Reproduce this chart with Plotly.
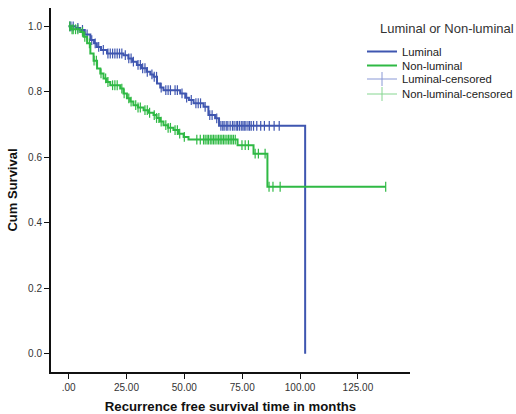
import plotly.graph_objects as go

# ---- data ----
lum_event_t = [0, 3, 5, 7, 9.4, 11, 12.2, 14, 16.6, 23.7, 25.8, 27.5, 29.5, 31.5, 33.8, 35.3, 36.7,
               38.2, 39.6, 41, 48.2, 50.4, 52, 54, 58.3, 60.4, 63.3, 65, 102.2]
lum_event_s = [1.0, 0.995, 0.989, 0.975, 0.958, 0.948, 0.937, 0.928, 0.917, 0.912, 0.902, 0.892, 0.882,
               0.872, 0.861, 0.853, 0.846, 0.825, 0.813, 0.805, 0.795, 0.782, 0.775, 0.765, 0.754,
               0.729, 0.719, 0.696, 0.0]
lum_end = 102.2
lum_cens = [0.5, 1, 2, 4, 6, 8, 10, 11.5, 13, 15, 17, 18, 19, 20, 21, 22, 23, 24.5, 26, 27, 28, 30, 31,
            32, 33, 34, 36, 37, 38, 40, 42, 43, 44, 46, 47, 49, 51, 53, 55, 56, 57, 59, 61, 62, 64,
            65.8, 66.6, 67.2, 68.1, 68.8, 69.8, 70.8, 71.5, 72.4, 73, 73.8, 74.6, 75.3, 75.9, 76.6,
            77.5, 78.2, 78.9, 79.9, 81.3, 83, 84.6, 86.7, 88.8, 91]

non_event_t = [0, 1, 5, 6.5, 8, 9.4, 10.8, 12.3, 13.7, 15.1, 16.5, 18, 22.3, 23.7, 25.2, 26.6, 28, 30,
               32.4, 34.5, 36.7, 38, 39.5, 41, 43, 45.3, 47.5, 49.7, 51.8, 73, 79.9, 85.9]
non_event_s = [1.0, 0.991, 0.983, 0.968, 0.948, 0.917, 0.895, 0.871, 0.856, 0.841, 0.83, 0.82, 0.81,
               0.795, 0.78, 0.77, 0.759, 0.752, 0.744, 0.736, 0.729, 0.72, 0.709, 0.698, 0.69, 0.683,
               0.672, 0.662, 0.654, 0.637, 0.611, 0.51]
non_end = 137
non_cens = [0.5, 1.5, 2, 3, 4, 6, 7, 9, 11, 12, 14, 16, 17, 19, 20, 21, 23, 24, 26, 27, 29, 30, 31, 33,
            34, 35, 37, 38, 39, 40, 42, 43, 44, 46, 47, 48, 50, 55.4, 56.9, 58.3, 59, 59.8, 60.4, 61.2,
            61.9, 62.6, 63.3, 64.1, 64.8, 65.5, 66.2, 66.9, 67.6, 68.4, 69.1, 69.8, 70.5, 71.2, 72,
            74.9, 76.3, 77.7, 80.6, 82, 84.9, 86.6, 88.3, 91.4, 137]

x_ticks = [0, 25, 50, 75, 100, 125]
x_tick_text = [".00", "25.00", "50.00", "75.00", "100.00", "125.00"]
y_ticks = [0, 0.2, 0.4, 0.6, 0.8, 1.0]
y_tick_text = ["0.0", "0.2", "0.4", "0.6", "0.8", "1.0"]

legend_title = "Luminal or Non-luminal"
legend_names = ["Luminal", "Non-luminal", "Luminal-censored", "Non-luminal-censored"]

BLUE = "#3F56B0"
GREEN = "#2FB944"
BLUE_L = "#8A99D6"
GREEN_L = "#86D691"


def step_value(times, surv, t):
    v = surv[0]
    for ti, si in zip(times, surv):
        if ti <= t:
            v = si
        else:
            break
    return v


def curve(times, surv, end):
    xs = list(times)
    ys = list(surv)
    if end > xs[-1]:
        xs.append(end)
        ys.append(ys[-1])
    return xs, ys


fig = go.Figure()

for t, s, end, cens, col in [
    (lum_event_t, lum_event_s, lum_end, lum_cens, BLUE),
    (non_event_t, non_event_s, non_end, non_cens, GREEN),
]:
    xs, ys = curve(t, s, end)
    fig.add_trace(go.Scatter(x=xs, y=ys, mode="lines", line=dict(color=col, width=2, shape="hv"),
                             showlegend=False, hoverinfo="skip"))
    cy = [step_value(t, s, c) for c in cens]
    fig.add_trace(go.Scatter(x=cens, y=cy, mode="markers", showlegend=False,
                             marker=dict(symbol="line-ns", size=7, line=dict(color=col, width=1.2))))

# legend entries (one legend per row so the row spacing matches)
leg_styles = [
    dict(mode="lines", line=dict(color=BLUE, width=2)),
    dict(mode="lines", line=dict(color=GREEN, width=2)),
    dict(mode="lines+markers", line=dict(color=BLUE_L, width=1),
         marker=dict(symbol="line-ns", size=10, line=dict(color=BLUE_L, width=1))),
    dict(mode="lines+markers", line=dict(color=GREEN_L, width=1),
         marker=dict(symbol="line-ns", size=10, line=dict(color=GREEN_L, width=1))),
]
leg_ids = ["legend", "legend2", "legend3", "legend4"]
row_y_px = [51.5, 65.5, 79, 94]
for name, st, lid in zip(legend_names, leg_styles, leg_ids):
    fig.add_trace(go.Scatter(x=[None], y=[None], name=name, legend=lid, **st))

font_family = "Liberation Sans, Arial, sans-serif"
W, H = 516, 414

layout_legends = {}
for lid, ypx in zip(leg_ids, row_y_px):
    layout_legends[lid] = dict(
        font=dict(size=11.3, color="#222"),
        xref="container", yref="container",
        x=362 / W, y=1 - ypx / H, xanchor="left", yanchor="middle",
        bgcolor="rgba(0,0,0,0)", itemwidth=30,
    )

fig.update_layout(
    width=W, height=H,
    margin=dict(l=51, r=106, t=8, b=42, autoexpand=False),
    paper_bgcolor="white", plot_bgcolor="white",
    font=dict(family=font_family, color="#222"),
    **layout_legends,
    annotations=[dict(text=legend_title, xref="paper", yref="paper",
                      x=(378 - 51) / 359, y=(372 - 28) / 364, xanchor="left", yanchor="middle",
                      showarrow=False, font=dict(size=13, color="#333"))],
    xaxis=dict(
        range=[-7.6, 147.5], tickvals=x_ticks, ticktext=x_tick_text,
        showgrid=False, zeroline=False, showline=True, linecolor="#111", linewidth=2,
        ticks="outside", ticklen=5, tickcolor="#111", tickwidth=1,
        tickfont=dict(size=10, color="#333"),
        title=dict(text="<b>Recurrence free survival time in months</b>", font=dict(size=13.2, color="#111"),
                   standoff=10),
    ),
    yaxis=dict(
        range=[-0.056, 1.056], tickvals=y_ticks, ticktext=y_tick_text,
        showgrid=False, zeroline=False, showline=True, linecolor="#111", linewidth=2,
        ticks="outside", ticklen=5, tickcolor="#111", tickwidth=1,
        tickfont=dict(size=10, color="#333"),
        title=dict(text="<b>Cum Survival</b>", font=dict(size=13, color="#111"), standoff=8),
    ),
)

fig.write_html("out.html")
